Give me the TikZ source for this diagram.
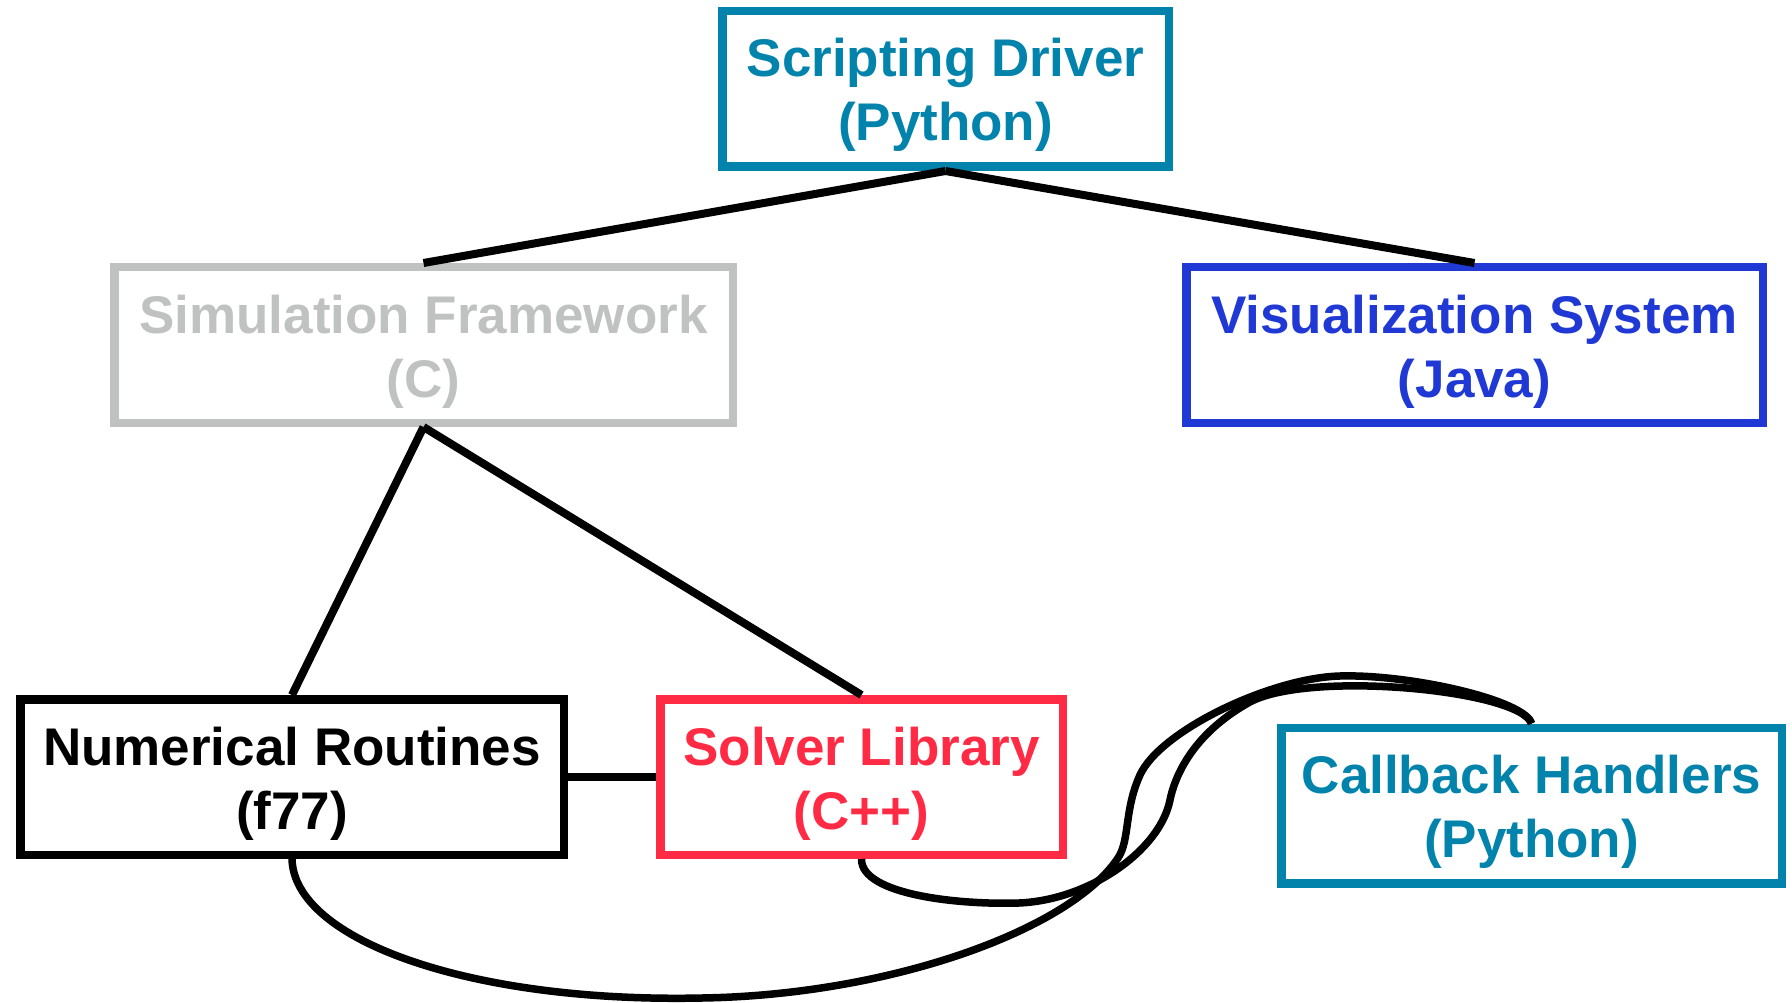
\documentclass[tikz,border=0pt]{standalone}
\usepackage{fontspec}
\setmainfont{Liberation Sans}

\definecolor{drvteal}{RGB}{2,131,172}
\definecolor{simgray}{RGB}{192,193,193}
\definecolor{visblue}{RGB}{33,57,212}
\definecolor{solred}{RGB}{255,42,68}

% two centred lines, first baseline 12pt above the box centre
\newcommand{\boxlabel}[2]{\raisebox{0pt}[51pt][75pt]{\begin{tabular}[t]{@{}c@{}}#1\\#2\end{tabular}}}

\begin{document}
\begin{tikzpicture}[x=1pt,y=-1pt,
  module/.style={draw, rectangle, line width=8.5pt, inner sep=0pt,
    minimum width=#1, minimum height=155.5pt,
    font=\bfseries\fontsize{53}{64}\selectfont},
  link/.style={line width=8pt, black},
  bend link/.style={line width=7.5pt, black}]

\useasboundingbox (0,0) rectangle (1792,1003);

% components
\node[module=446.5pt, draw=drvteal, text=drvteal] (sd)  at (945.5,89)   {\boxlabel{Scripting Driver}{(Python)}};
\node[module=618.5pt, draw=simgray, text=simgray] (sim) at (423.5,345)  {\boxlabel{Simulation Framework}{(C)}};
\node[module=576.5pt, draw=visblue, text=visblue] (vis) at (1474.5,345) {\boxlabel{Visualization System}{(Java)}};
\node[module=543.5pt, draw=black,   text=black]   (num) at (292,777)    {\boxlabel{Numerical Routines}{(f77)}};
\node[module=402.5pt, draw=solred,  text=solred]  (sol) at (861.5,777)  {\boxlabel{Solver Library}{(C++)}};
\node[module=500.5pt, draw=drvteal, text=drvteal] (cb)  at (1531.5,805.5) {\boxlabel{Callback Handlers}{(Python)}};

% tree links
\draw[link] (sd.south) -- (sim.north);
\draw[link] (sd.south) -- (vis.north);
\draw[link] (sim.south) -- (num.north);
\draw[link] (sim.south) -- (sol.north);
\draw[link] (num.east) -- (sol.west);

% callback links
\draw[bend link] (num.south)
  .. controls (294,940) and (470,1003) .. (702,998)
  .. controls (890,995) and (1070,930) .. (1118,858)
  .. controls (1130,840) and (1124,810) .. (1140,775)
  .. controls (1160,731) and (1270,678) .. (1340,676)
  .. controls (1410,674) and (1525,700) .. (cb.north);
\draw[bend link] (sol.south)
  .. controls (861,895) and (960,905) .. (1019,903)
  .. controls (1090,900) and (1160,850) .. (1170,800)
  .. controls (1174,780) and (1190,735) .. (1250,702)
  .. controls (1310,670) and (1520,690) .. (cb.north);
\end{tikzpicture}
\end{document}
